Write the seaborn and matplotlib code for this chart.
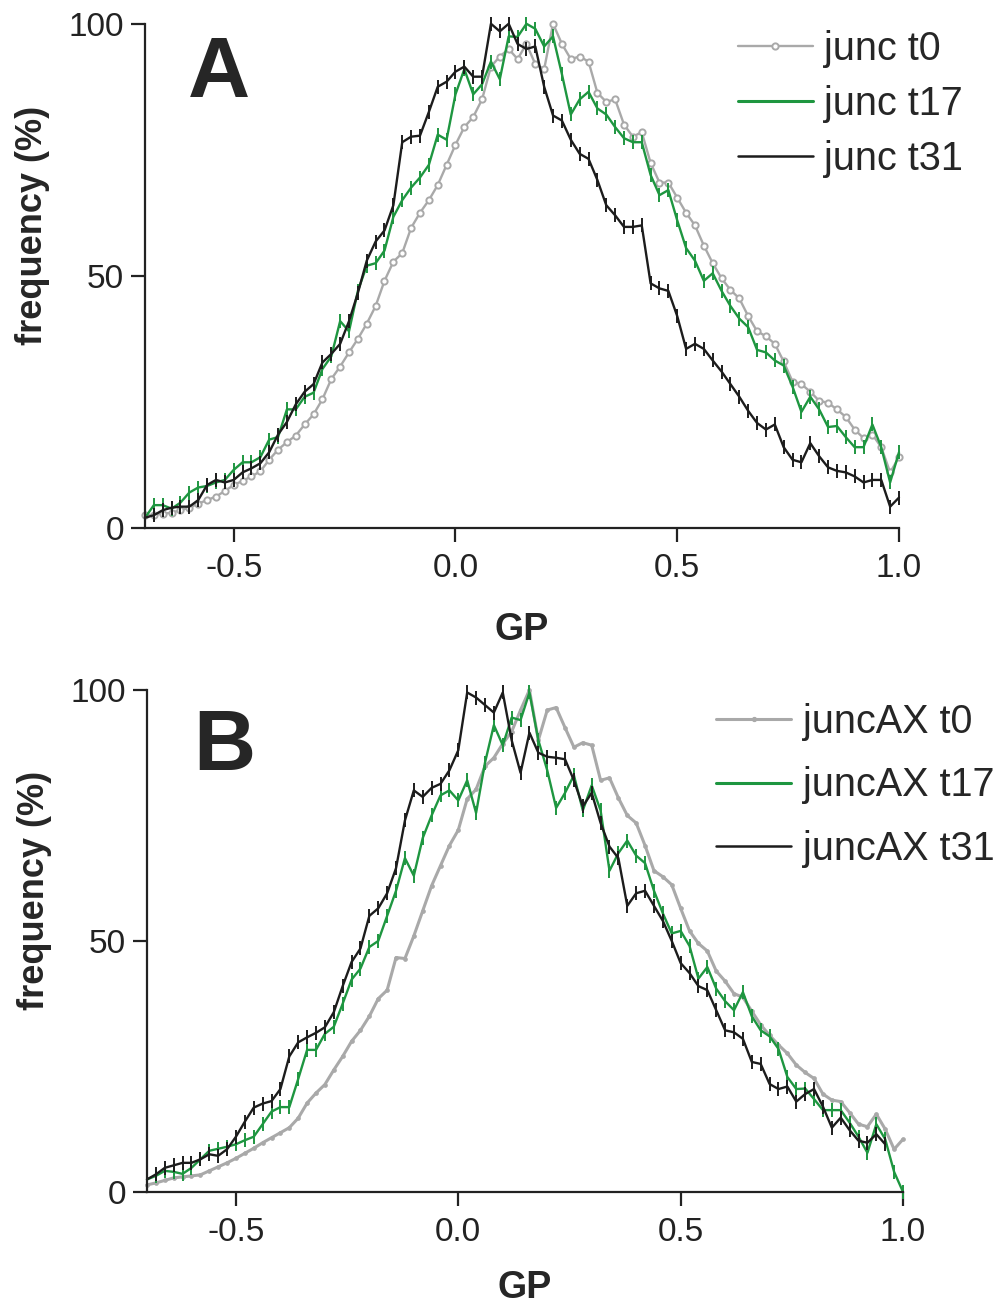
import numpy as np
import pandas as pd
import matplotlib
matplotlib.use("Agg")
import matplotlib.pyplot as plt
from matplotlib.lines import Line2D
import seaborn as sns

# GP bin centres (-0.70 ... 1.00, step 0.02)
gp = np.round(np.linspace(-0.70, 1.00, 86), 2)

# panel A: junc
junc_t0 = [2.5, 2.6, 2.8, 3.0, 3.5, 4.0, 4.8, 5.5, 6.2, 7.3,
           8.5, 9.3, 10.2, 11.2, 13.5, 15.5, 17.0, 18.3, 20.5, 22.5,
           25.5, 29.5, 32.0, 34.8, 37.5, 40.5, 44.0, 49.0, 52.8, 54.5,
           59.5, 62.5, 65.0, 68.0, 72.0, 76.0, 79.5, 81.5, 85.0, 91.5,
           93.5, 95.0, 93.0, 96.0, 92.0, 91.0, 100.0, 96.0, 93.0, 93.5,
           92.5, 86.3, 84.5, 85.0, 80.0, 77.6, 78.5, 72.4, 68.5, 68.5,
           65.5, 62.5, 60.0, 56.0, 52.5, 49.5, 47.2, 45.5, 42.0, 39.0,
           38.0, 36.5, 33.0, 29.0, 28.5, 27.0, 25.2, 24.8, 23.5, 22.0,
           19.5, 17.8, 18.5, 16.0, 11.0, 14.0]
junc_t17 = [2.0, 4.5, 4.5, 3.8, 5.0, 7.0, 8.0, 8.3, 9.0, 9.5,
            11.5, 13.0, 13.0, 14.0, 17.5, 18.0, 23.5, 23.5, 26.0, 26.8,
            31.5, 34.0, 41.0, 39.0, 47.0, 52.0, 52.5, 55.0, 61.7, 65.0,
            67.5, 69.5, 72.0, 78.0, 77.0, 86.0, 91.0, 86.0, 88.0, 92.5,
            89.0, 97.5, 97.4, 100.0, 99.0, 95.5, 97.5, 90.0, 82.0, 85.0,
            86.5, 83.2, 82.0, 79.5, 77.3, 76.5, 76.5, 70.0, 66.0, 67.0,
            61.0, 55.5, 53.0, 49.0, 50.5, 47.0, 44.0, 41.5, 39.8, 35.3,
            34.8, 33.2, 32.2, 28.0, 23.0, 26.0, 23.5, 20.0, 20.2, 18.0,
            16.0, 16.0, 20.5, 16.0, 9.0, 15.0]
junc_t31 = [2.0, 2.5, 3.5, 4.0, 4.2, 4.2, 5.5, 8.5, 9.5, 9.0,
            9.5, 11.0, 11.8, 12.8, 15.0, 18.5, 21.0, 24.5, 27.0, 28.5,
            32.8, 34.5, 36.5, 41.0, 46.6, 53.0, 56.8, 59.0, 64.0, 76.5,
            77.6, 77.8, 82.5, 87.5, 88.5, 90.5, 91.5, 89.5, 89.5, 100.0,
            98.5, 100.0, 96.0, 95.0, 95.5, 87.5, 81.8, 80.8, 77.0, 74.2,
            73.2, 69.0, 64.0, 62.0, 59.7, 59.7, 60.0, 48.5, 47.5, 47.0,
            42.0, 35.5, 36.5, 35.5, 33.2, 31.0, 28.5, 26.0, 23.2, 20.8,
            19.5, 20.5, 16.0, 13.5, 13.0, 16.8, 14.2, 12.0, 11.3, 11.0,
            10.2, 9.0, 9.5, 9.5, 4.2, 6.0]

# panel B: juncAX
juncax_t0 = [1.4, 1.8, 2.3, 2.8, 3.0, 3.2, 3.4, 4.2, 5.0, 5.8,
             6.7, 7.7, 8.7, 9.8, 10.8, 11.8, 12.8, 14.7, 17.7, 19.7,
             21.4, 24.3, 27.0, 30.0, 32.2, 35.0, 38.5, 40.2, 46.7, 46.5,
             51.0, 56.0, 61.0, 65.0, 69.0, 72.1, 78.3, 80.2, 84.8, 86.5,
             89.3, 91.7, 96.0, 100.0, 90.0, 96.0, 96.5, 92.5, 88.6, 89.5,
             89.0, 82.0, 82.5, 78.5, 75.0, 73.5, 69.0, 64.0, 62.8, 61.2,
             56.5, 52.0, 49.5, 48.0, 44.0, 42.0, 39.5, 38.8, 36.0, 33.3,
             31.2, 29.3, 27.6, 25.3, 23.8, 22.6, 19.5, 18.3, 18.0, 15.8,
             13.5, 13.0, 15.5, 12.5, 8.5, 10.5]
juncax_t17 = [2.5, 3.2, 4.2, 4.0, 3.6, 4.8, 6.5, 8.2, 8.6, 9.0,
              9.5, 10.3, 11.0, 13.5, 16.0, 16.9, 16.9, 22.5, 28.3, 28.3,
              31.5, 32.9, 37.5, 42.3, 44.5, 48.8, 50.0, 55.0, 60.0, 66.5,
              63.0, 70.5, 75.0, 79.0, 80.0, 78.0, 82.0, 75.5, 85.5, 93.0,
              89.0, 94.5, 94.0, 99.5, 90.0, 84.0, 76.5, 79.5, 83.0, 76.0,
              81.0, 76.0, 64.0, 67.5, 70.0, 67.0, 65.5, 60.0, 55.5, 51.5,
              52.0, 49.0, 42.5, 44.8, 40.5, 38.0, 36.2, 39.8, 35.0, 32.2,
              31.0, 28.5, 22.9, 20.5, 20.6, 18.5, 16.3, 16.3, 16.3, 13.8,
              11.0, 7.8, 13.5, 10.5, 4.0, 0.0]
juncax_t31 = [2.5, 3.5, 4.8, 5.3, 5.8, 5.8, 6.5, 7.5, 7.2, 8.5,
              11.0, 14.0, 16.8, 17.6, 18.1, 20.5, 27.0, 29.8, 30.8, 31.7,
              32.8, 35.8, 41.0, 45.8, 48.5, 55.0, 56.5, 59.5, 64.5, 74.0,
              80.0, 78.7, 80.5, 81.3, 84.0, 88.0, 99.5, 98.5, 97.0, 95.5,
              99.5, 90.0, 83.5, 91.5, 87.5, 86.7, 86.5, 86.2, 82.0, 76.8,
              79.5, 73.5, 68.8, 66.5, 57.0, 59.5, 60.0, 57.0, 54.0, 50.0,
              45.6, 43.6, 41.0, 40.2, 36.2, 32.2, 31.8, 30.5, 25.9, 25.5,
              21.5, 20.5, 21.0, 18.0, 19.5, 20.5, 17.0, 12.8, 14.8, 12.3,
              10.2, 9.8, 11.5, 9.5, np.nan, np.nan]

GRAY = "#a9a9a9"
GREEN = "#1e9640"
BLACK = "#1c1c1c"

sns.set_style("ticks")
plt.rcParams["font.family"] = ["Liberation Sans", "DejaVu Sans"]
plt.rcParams["axes.unicode_minus"] = False
plt.rcParams["axes.linewidth"] = 1.6
plt.rcParams["axes.edgecolor"] = "#222222"
for ax_name in ("xtick", "ytick"):
    plt.rcParams[f"{ax_name}.major.size"] = 10
    plt.rcParams[f"{ax_name}.major.width"] = 1.6
    plt.rcParams[f"{ax_name}.color"] = "#222222"
    plt.rcParams[f"{ax_name}.labelsize"] = 24

fig = plt.figure(figsize=(10.02, 13.13), dpi=100)
ax_a = fig.add_axes([0.1447, 0.598, 0.7525, 0.3839])
ax_b = fig.add_axes([0.1467, 0.0922, 0.7545, 0.3823])


def draw_panel(ax, series, labels, gray_marker, letter, leg_anchor, spacing):
    t0, t17, t31 = series
    df = pd.DataFrame({"gp": gp, "t0": t0, "t17": t17, "t31": t31})
    d0 = df[["gp", "t0"]].dropna()
    if gray_marker == "o":
        sns.lineplot(data=d0, x="gp", y="t0", ax=ax, color=GRAY, lw=1.7,
                     marker="o", ms=4.5, mfc="white", mec=GRAY, mew=1.4,
                     errorbar=None, legend=False, clip_on=False)
    else:
        sns.lineplot(data=d0, x="gp", y="t0", ax=ax, color=GRAY, lw=2.2,
                     marker="o", ms=2.8, mfc=GRAY, mec=GRAY, mew=0.5,
                     errorbar=None, legend=False, clip_on=False)
    for col, color in (("t17", GREEN), ("t31", BLACK)):
        d = df[["gp", col]].dropna()
        sns.lineplot(data=d, x="gp", y=col, ax=ax, color=color, lw=1.7,
                     marker="|", ms=10, mew=1.4, mec=color,
                     errorbar=None, legend=False, clip_on=False)

    ax.set_xlim(-0.7, 1.0)
    ax.set_ylim(0, 100)
    ax.set_xticks([-0.5, 0.0, 0.5, 1.0])
    ax.set_xticklabels(["-0.5", "0.0", "0.5", "1.0"])
    ax.set_yticks([0, 50, 100])
    ax.tick_params(axis="x", pad=8)
    ax.tick_params(axis="y", pad=5)
    sns.despine(ax=ax)
    ax.set_xlabel("GP", fontsize=27, fontweight="bold", labelpad=20)
    ax.set_ylabel("frequency (%)", fontsize=26, fontweight="bold")
    ax.yaxis.set_label_coords(-0.126, 0.6)

    ax.text(0.057, 0.855, letter, transform=ax.transAxes, fontsize=62,
            fontweight="bold", ha="left", va="baseline")

    if gray_marker == "o":
        h0 = Line2D([], [], color=GRAY, lw=1.7, marker="o", ms=4.5,
                    mfc="white", mec=GRAY, mew=1.4)
    else:
        h0 = Line2D([], [], color=GRAY, lw=2.2, marker="o", ms=2.8,
                    mfc=GRAY, mec=GRAY)
    handles = [h0, Line2D([], [], color=GREEN, lw=2.2),
               Line2D([], [], color=BLACK, lw=1.8)]
    ax.legend(handles, labels, loc="upper left", bbox_to_anchor=leg_anchor,
              frameon=False, fontsize=28.5, handlelength=1.9, handletextpad=0.28,
              labelspacing=spacing, borderaxespad=0, borderpad=0, numpoints=1)


draw_panel(ax_a, (junc_t0, junc_t17, junc_t31),
           ["junc t0", "junc t17", "junc t31"], "o", "A", (0.786, 0.988), 0.43)
draw_panel(ax_b, (juncax_t0, juncax_t17, juncax_t31),
           ["juncAX t0", "juncAX t17", "juncAX t31"], ".", "B", (0.753, 0.974), 0.64)
ax_b.texts[0].set_position((0.061, 0.841))
ax_b.xaxis.labelpad = 16

fig.savefig("out.png", dpi=100)
